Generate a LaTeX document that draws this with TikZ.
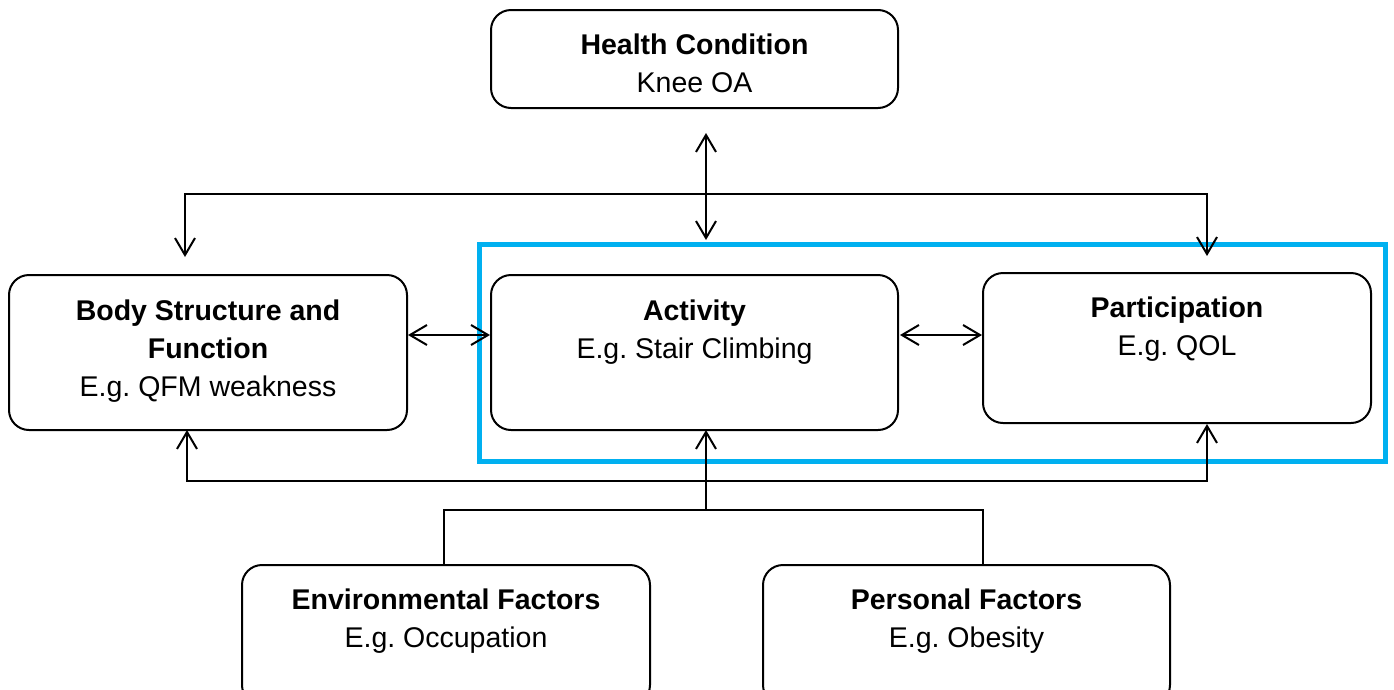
\documentclass[tikz,border=0pt]{standalone}
\usepackage{fontspec}
\setmainfont{Liberation Sans}
\usetikzlibrary{arrows.meta}
\definecolor{frameblue}{HTML}{00B0F0}
\frenchspacing
\begin{document}
\begin{tikzpicture}[x=1pt,y=-1pt,
  box/.style={draw, line width=2pt, rounded corners=20pt, inner sep=0pt, fill=white},
  txt/.style={align=center, font=\fontsize{28.5}{38}\selectfont\frenchspacing, inner sep=0pt},
  ln/.style={line width=2pt},
  barb/.tip={Straight Barb[length=17pt,width=20pt,line width=2pt]},
  bi/.style={ln, barb-barb},
  one/.style={ln, -barb}]
\clip (0,0) rectangle (1394,689);
\useasboundingbox (0,0) rectangle (1394,689);
% boxes
\node[box, minimum width=407pt, minimum height=98pt] (hc) at (694.5,59) {};
\node[box, minimum width=398pt, minimum height=155pt] (bs) at (208,352.5) {};
\node[box, minimum width=407pt, minimum height=155pt] (act) at (694.5,352.5) {};
\node[box, minimum width=388pt, minimum height=150pt] (par) at (1177,348) {};
\node[box, minimum width=408pt, minimum height=140pt] (env) at (446,635) {};
\node[box, minimum width=407pt, minimum height=140pt] (per) at (966.5,635) {};
% texts
\node[txt] (hct) at (694.5,63) {\textbf{Health Condition}\\Knee OA};
\node[txt] (bst) at (208,351) {\textbf{Body Structure and}\\\textbf{Function}\\E.g. QFM weakness};
\node[txt] (actt) at (694.5,332) {\textbf{Activity}\\E.g. Stair Climbing};
\node[txt] (part) at (1177,329) {\textbf{Participation}\\E.g. QOL};
\node[txt] (envt) at (446,621) {\textbf{Environmental Factors}\\E.g. Occupation};
\node[txt] (pert) at (966.5,621) {\textbf{Personal Factors}\\E.g. Obesity};
% blue frame
\draw[frameblue, line width=5pt] (479,244.5) rectangle (1385,461);
% coordinates
\coordinate (hcA) at (706,133);
\coordinate (actA) at (706,240);
\coordinate (bsTop) at (185,257);
\coordinate (parTop) at (1207,256);
\coordinate (bsL) at (408,335);
\coordinate (actL) at (490,335);
\coordinate (actR) at (900,335);
\coordinate (parL) at (982,335);
\coordinate (bsB) at (187,430);
\coordinate (parB) at (1207,424);
\coordinate (actB) at (706,430);
\coordinate (hub) at (706,510);
\coordinate (envT) at (444,565);
\coordinate (perT) at (983,565);
% connectors
\draw[bi] (hcA) -- (actA);
\draw[bi] (bsTop) -- (185,194) -- (1207,194) -- (parTop);
\draw[bi] (bsL) -- (actL);
\draw[bi] (actR) -- (parL);
\draw[bi] (bsB) -- (187,481) -- (1207,481) -- (parB);
\draw[one] (hub) -- (actB);
\draw[ln] (envT) -- (444,510) -- (983,510) -- (perT);
\end{tikzpicture}
\end{document}
